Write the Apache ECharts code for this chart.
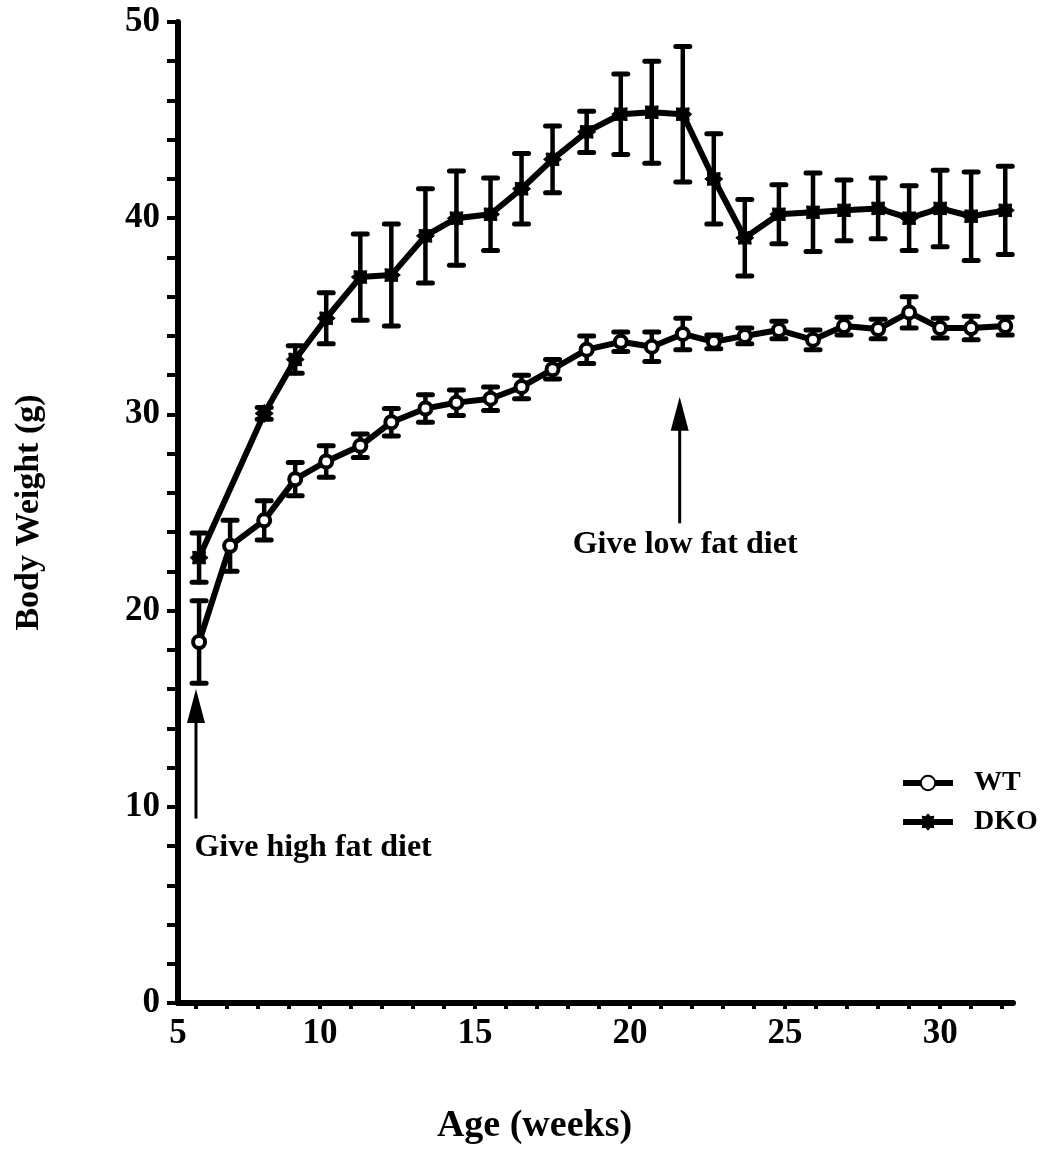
<!DOCTYPE html>
<html><head><meta charset="utf-8">
<script src="https://cdn.jsdelivr.net/npm/echarts@6/dist/echarts.min.js"></script>
<style>html,body{margin:0;padding:0;background:#fff}#c{width:1060px;height:1153px}</style>
</head><body><div id="c"></div>
<script>
// Age (weeks) of each measurement
const ages = [6.1, 7.1, 8.2, 9.2, 10.2, 11.3, 12.3, 13.4, 14.4, 15.5, 16.5, 17.5, 18.6, 19.7, 20.7, 21.7, 22.7, 23.7, 24.8, 25.9, 26.9, 28.0, 29.0, 30.0, 31.0, 32.1];
// WT body weight (g) and error
const wtMean = [18.4, 23.3, 24.6, 26.7, 27.6, 28.4, 29.6, 30.3, 30.6, 30.8, 31.4, 32.3, 33.3, 33.7, 33.45, 34.1, 33.7, 34.0, 34.3, 33.8, 34.5, 34.35, 35.2, 34.4, 34.4, 34.5];
const wtErr  = [2.1, 1.3, 1.0, 0.85, 0.8, 0.6, 0.7, 0.7, 0.65, 0.6, 0.6, 0.5, 0.7, 0.5, 0.75, 0.8, 0.35, 0.4, 0.45, 0.5, 0.45, 0.5, 0.8, 0.5, 0.6, 0.45];
// DKO body weight (g) and error
const dkoMean = [22.7, null, 30.05, 32.8, 34.9, 37.0, 37.1, 39.1, 40.0, 40.2, 41.5, 43.0, 44.4, 45.3, 45.4, 45.3, 42.0, 39.0, 40.2, 40.3, 40.4, 40.5, 40.0, 40.5, 40.1, 40.4];
const dkoErr  = [1.25, null, 0.3, 0.7, 1.3, 2.2, 2.6, 2.4, 2.4, 1.85, 1.8, 1.7, 1.05, 2.05, 2.6, 3.45, 2.3, 1.95, 1.5, 2.0, 1.55, 1.55, 1.65, 1.95, 2.25, 2.25];
// axis ticks / labels
const xTicks = [6,7,8,9,10,11,12,13,14,15,16,17,18,19,20,21,22,23,24,25,26,27,28,29,30,31,32];
const xLabels = [5.42, 10, 15, 20, 25, 30];
const xMin = 5.42, xMax = 32.35;
// annotations: [x, baseY, tipY]
const arrows = [[6.0, 9.4, 16.0], [21.6, 24.45, 30.9]];
const notes = [['Give high fat diet', 5.95, 7.9], ['Give low fat diet', 18.15, 23.35]];

const FONT = 'Liberation Serif';
const chart = echarts.init(document.getElementById('c'), null, {renderer:'canvas'});

function errData(mean, err){
  const out = [];
  ages.forEach((a,i)=>{ if(mean[i]!=null) out.push([a, mean[i]-err[i], mean[i]+err[i]]); });
  return out;
}
function errItem(params, api){
  const x = api.value(0), lo = api.value(1), hi = api.value(2);
  const p1 = api.coord([x, hi]), p2 = api.coord([x, lo]);
  const cw = 7;
  const st = {stroke:'#000', lineWidth:4.5, lineCap:'round'};
  const cs = {stroke:'#000', lineWidth:5, lineCap:'round'};
  return {type:'group', children:[
    {type:'line', shape:{x1:p1[0],y1:p1[1],x2:p2[0],y2:p2[1]}, style:st},
    {type:'line', shape:{x1:p1[0]-cw,y1:p1[1],x2:p1[0]+cw,y2:p1[1]}, style:cs},
    {type:'line', shape:{x1:p2[0]-cw,y1:p2[1],x2:p2[0]+cw,y2:p2[1]}, style:cs}
  ]};
}
function arrowItem(params, api){
  const x = api.value(0), b = api.value(1), t = api.value(2);
  const pb = api.coord([x, b]), pt = api.coord([x, t]);
  const hw = 9, hl = 34;
  return {type:'group', children:[
    {type:'line', shape:{x1:pb[0],y1:pb[1],x2:pt[0],y2:pt[1]+hl-2}, style:{stroke:'#000', lineWidth:3}},
    {type:'polygon', shape:{points:[[pt[0],pt[1]],[pt[0]-hw,pt[1]+hl],[pt[0]+hw,pt[1]+hl]]}, style:{fill:'#000'}}
  ]};
}
function noteItem(params, api){
  const p = api.coord([api.value(1), api.value(2)]);
  return {type:'text', x:p[0], y:p[1], style:{text:notes[params.dataIndex][0], fill:'#000',
    font:'bold 32px "'+FONT+'"', textAlign:'left', textVerticalAlign:'middle'}};
}

const starPath = 'path://M10,5 L8.33,6.38 L8.54,8.54 L6.38,8.33 L5,10 L3.62,8.33 L1.46,8.54 L1.67,6.38 L0,5 L1.67,3.62 L1.46,1.46 L3.62,1.67 L5,0 L6.38,1.67 L8.54,1.46 L8.33,3.62 Z';

chart.setOption({
  animation:false,
  backgroundColor:'#fff',
  grid:{left:178, right:47, top:22, bottom:150},
  legend:{
    orient:'vertical', left:895, top:764, itemWidth:50, itemHeight:18, itemGap:11,
    data:['WT','DKO'],
    lineStyle:{width:6, color:'#000'},
    textStyle:{fontFamily:FONT, fontWeight:'bold', fontSize:28, color:'#000', padding:[0,0,0,16]}
  },
  xAxis:{
    type:'value', min:xMin, max:xMax,
    name:'Age (weeks)', nameLocation:'middle', nameGap:104,
    nameTextStyle:{fontFamily:FONT, fontWeight:'bold', fontSize:38, color:'#000', padding:[0,122,0,0]},
    axisLine:{show:true, onZero:false, lineStyle:{color:'#000', width:6}},
    axisTick:{show:true, customValues:xTicks, length:6, lineStyle:{color:'#000', width:4}},
    axisLabel:{customValues:xLabels, formatter: v => v < 6 ? '5' : String(v), margin:13,
      fontFamily:FONT, fontWeight:'bold', fontSize:35, color:'#000'},
    splitLine:{show:false}
  },
  yAxis:{
    type:'value', min:0, max:50, interval:10,
    name:'Body Weight (g)', nameLocation:'middle', nameGap:132,
    nameTextStyle:{fontFamily:FONT, fontWeight:'bold', fontSize:34, color:'#000'},
    axisLine:{show:true, lineStyle:{color:'#000', width:6}},
    axisTick:{show:true, length:11, lineStyle:{color:'#000', width:4}},
    minorTick:{show:true, splitNumber:5, length:11, lineStyle:{color:'#000', width:4}},
    axisLabel:{margin:18, fontFamily:FONT, fontWeight:'bold', fontSize:35, color:'#000'},
    splitLine:{show:false}
  },
  series:[
    {type:'custom', name:'wtErr', renderItem:errItem, data:errData(wtMean, wtErr), z:1, silent:true},
    {type:'custom', name:'dkoErr', renderItem:errItem, data:errData(dkoMean, dkoErr), z:1, silent:true},
    {type:'line', name:'WT', data:ages.map((a,i)=>[a, wtMean[i]]), z:3,
      symbol:'circle', symbolSize:12, showAllSymbol:true,
      lineStyle:{color:'#000', width:6},
      itemStyle:{color:'#fff', borderColor:'#000', borderWidth:4}},
    {type:'line', name:'DKO', data:ages.map((a,i)=>[a, dkoMean[i]]), z:3, connectNulls:true,
      symbol:starPath, symbolSize:18, showAllSymbol:true,
      lineStyle:{color:'#000', width:6},
      itemStyle:{color:'#000', borderColor:'#000', borderWidth:1}},
    {type:'custom', name:'arrows', renderItem:arrowItem, data:arrows, z:2, silent:true},
    {type:'custom', name:'notes', renderItem:noteItem, data:notes.map(n=>[0, n[1], n[2]]), z:2, silent:true}
  ]
});
</script>
</body></html>
